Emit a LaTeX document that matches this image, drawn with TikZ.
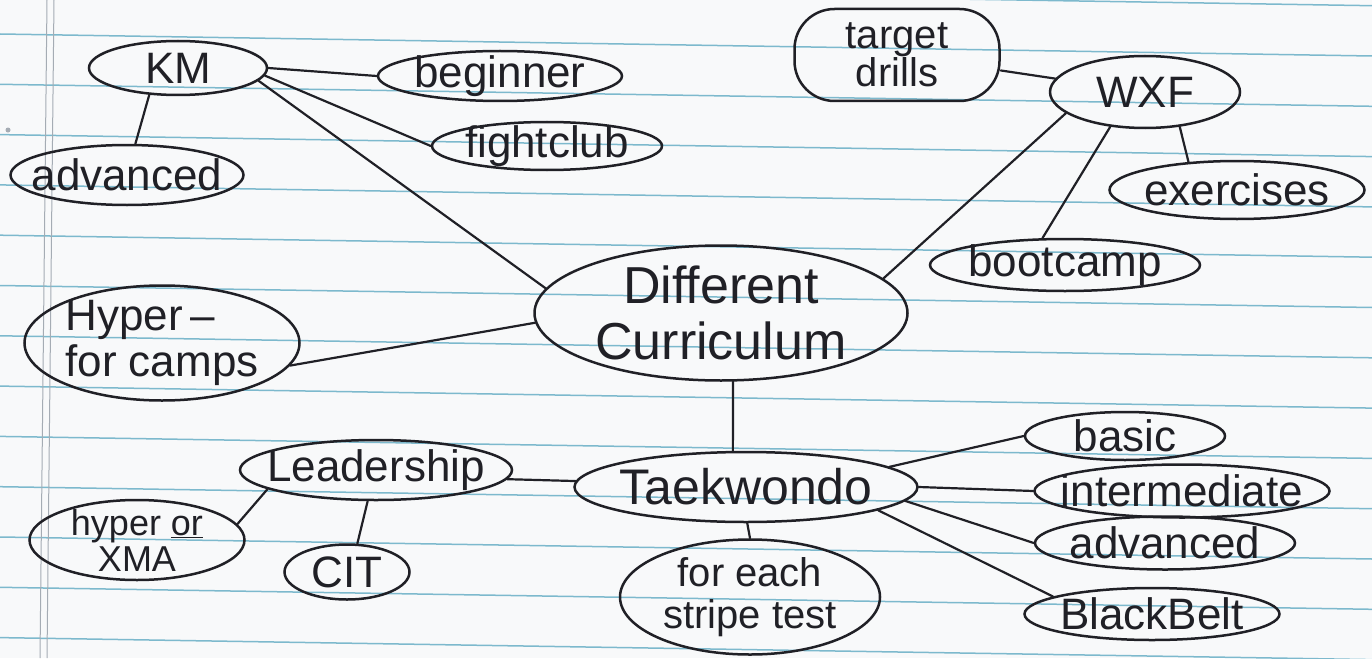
\documentclass[tikz,border=0pt]{standalone}
\usepackage{fontspec}
\setmainfont{Liberation Sans}
\usetikzlibrary{shapes.geometric}
\definecolor{paper}{RGB}{248,249,250}
\definecolor{ruleblue}{RGB}{125,185,205}
\definecolor{margingrey}{RGB}{165,172,180}
\definecolor{ink}{RGB}{32,32,38}
\begin{document}
\begin{tikzpicture}[x=1pt,y=-1pt,
  bub/.style={draw=ink, ellipse, line width=2.5pt, inner xsep=-20pt, inner ysep=-15pt,
    text=ink, align=center, font=\fontsize{44}{46}\selectfont},
  rbox/.style={draw=ink, rectangle, rounded corners=40pt, line width=2.5pt, inner sep=0pt,
    text=ink, align=center, font=\fontsize{40}{38}\selectfont},
  link/.style={draw=ink, line width=2.2pt, line cap=round},
  ruleline/.style={draw=ruleblue, line width=1.5pt},
  marginline/.style={draw=margingrey, line width=1pt}]
\fill[paper] (0,0) rectangle (1372,658);
\useasboundingbox (0,0) rectangle (1372,658);
% lined paper
\foreach \k in {-1,...,12} {\draw[ruleline] (0,{34+50.3*\k}) -- (1372,{56+50.3*\k});}
\draw[marginline] (47,0) -- (40,658);
\draw[marginline] (54,0) -- (47,658);
\fill[margingrey] (8,130) circle (2.5);
% nodes
\node[bub, minimum width=178pt, minimum height=54pt] (km) at (178,68) {KM};
\node[bub, minimum width=244pt, minimum height=50pt] (beg) at (500,76) {beginner};
\node[bub, minimum width=230pt, minimum height=48pt] (fc) at (547,146) {fightclub};
\node[bub, minimum width=233pt, minimum height=60pt] (adva) at (127,175) {advanced};
\node[rbox, minimum width=205pt, minimum height=92pt] (td) at (897,55) {target\\drills};
\node[bub, minimum width=190pt, minimum height=72pt] (wxf) at (1145,92) {WXF};
\node[bub, minimum width=255pt, minimum height=58pt] (ex) at (1237,190) {exercises};
\node[bub, minimum width=270pt, minimum height=52pt] (bc) at (1065,265) {bootcamp};
\node[bub, minimum width=373pt, minimum height=135pt, font=\fontsize{52}{56}\selectfont] (dc) at (721,313) {Different\\Curriculum};
\node[bub, minimum width=275pt, minimum height=115pt, align=left] (hyp) at (162,343) {Hyper\,--\\for camps};
\node[bub, minimum width=343pt, minimum height=70pt, font=\fontsize{50}{52}\selectfont] (tkd) at (746,487) {Taekwondo};
\node[bub, minimum width=272pt, minimum height=60pt] (lead) at (376,470) {Leadership};
\node[bub, minimum width=215pt, minimum height=80pt, font=\fontsize{36}{36}\selectfont] (hx) at (137,540) {hyper \underline{or}\\XMA};
\node[bub, minimum width=125pt, minimum height=55pt] (cit) at (347,572) {CIT};
\node[bub, minimum width=260pt, minimum height=115pt, font=\fontsize{40}{42}\selectfont] (st) at (750,597) {for each\\stripe test};
\node[bub, minimum width=200pt, minimum height=48pt] (basic) at (1125,436) {basic};
\node[bub, minimum width=295pt, minimum height=53pt] (inter) at (1182,491) {intermediate};
\node[bub, minimum width=260pt, minimum height=53pt] (advb) at (1165,543) {advanced};
\node[bub, minimum width=255pt, minimum height=52pt] (bb) at (1152,614) {BlackBelt};
% connectors
\draw[link] (km.east) -- (beg.west);
\draw[link] (km.-5) -- (fc.west);
\draw[link] (km.223) -- (adva.75);
\draw[link] (km.-9) -- (dc.172);
\draw[link] (td) -- (wxf);
\draw[link] (wxf.195) -- (dc.12);
\draw[link] (wxf.225) -- (bc.130);
\draw[link] (wxf.315) -- (ex.150);
\draw[link] (hyp.-10) -- (dc.183);
\draw[link] (dc.-80) -- (tkd.110);
\draw[link] (lead.-4) -- (tkd.178);
\draw[link] (lead.190) -- (hx.9);
\draw[link] (lead.255) -- (cit.70);
\draw[link] (tkd.-88) -- (st.north);
\draw[link] (tkd.8) -- (basic.west);
\draw[link] (tkd.east) -- (inter.west);
\draw[link] (tkd.-5) -- (advb.west);
\draw[link] (tkd.-10) -- (bb.170);
\end{tikzpicture}
\end{document}
